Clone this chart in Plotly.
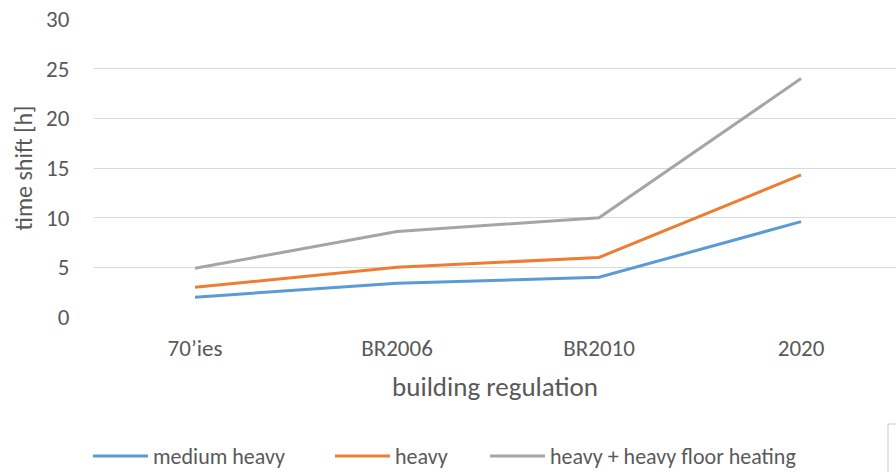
import plotly.graph_objects as go

categories = ["70’ies", "BR2006", "BR2010", "2020"]
medium_heavy = [2.0, 3.4, 4.0, 9.6]
heavy = [3.0, 5.0, 6.0, 14.3]
heavy_floor_heating = [4.9, 8.6, 10.0, 24.0]

series = [
    ("medium heavy", medium_heavy, "#5b9bd5"),
    ("heavy", heavy, "#ed7d31"),
    ("heavy + heavy floor heating", heavy_floor_heating, "#a5a5a5"),
]

FONT = "Carlito, 'Liberation Sans Narrow', 'Open Sans', sans-serif"
TXT = "#595959"

W, H = 896, 472
ml, mr, mt, mb = 94, 0, 19, 155
PW, PH = W - ml - mr, H - mt - mb


def px_x(x):
    return (x - ml) / PW


def px_y(y):
    return (H - mb - y) / PH


fig = go.Figure()
for name, vals, color in series:
    fig.add_trace(go.Scatter(
        x=list(range(len(categories))), y=vals, name=name, mode="lines",
        line=dict(color=color, width=3), showlegend=False,
    ))

fig.update_layout(
    width=W, height=H,
    margin=dict(l=ml, r=mr, t=mt, b=mb),
    paper_bgcolor="white", plot_bgcolor="white",
    font=dict(family=FONT, size=23, color=TXT),
    xaxis=dict(
        range=[-0.5, 3.47], tickmode="array",
        tickvals=list(range(len(categories))), ticktext=categories,
        showgrid=False, zeroline=False, showline=False,
        ticks="outside", ticklen=0, tickcolor="white",
        ticklabelstandoff=10, tickfont=dict(size=23, color=TXT),
        title=dict(text="building regulation", font=dict(size=27, color=TXT), standoff=16),
    ),
    yaxis=dict(
        range=[0, 30], dtick=5, showgrid=True, gridcolor="#d9d9d9", gridwidth=1,
        zeroline=False, showline=False, ticks="outside", ticklen=0,
        tickcolor="white", ticklabelstandoff=19, tickfont=dict(size=23, color=TXT),
        title=dict(text="time shift [h]", font=dict(size=24, color=TXT), standoff=6),
    ),
)

# legend row below the axis title: a short line swatch followed by its label
legend_y = px_y(456)
legend_x = [93, 335, 490]
for (name, _, color), x0 in zip(series, legend_x):
    fig.add_shape(type="line", xref="paper", yref="paper",
                  x0=px_x(x0), x1=px_x(x0 + 55), y0=legend_y, y1=legend_y,
                  line=dict(color=color, width=3))
    fig.add_annotation(xref="paper", yref="paper", x=px_x(x0 + 58), y=legend_y,
                       xanchor="left", yanchor="middle", showarrow=False,
                       text=name, font=dict(size=22, color=TXT, family=FONT))

# partial frame at the lower-right corner
fig.add_shape(type="line", xref="paper", yref="paper",
              x0=px_x(888), x1=px_x(888), y0=px_y(472), y1=px_y(424),
              line=dict(color="#c8c8c8", width=1))
fig.add_shape(type="line", xref="paper", yref="paper",
              x0=px_x(888), x1=1.0, y0=px_y(424), y1=px_y(424),
              line=dict(color="#c8c8c8", width=1))

fig.write_html("out.html")
